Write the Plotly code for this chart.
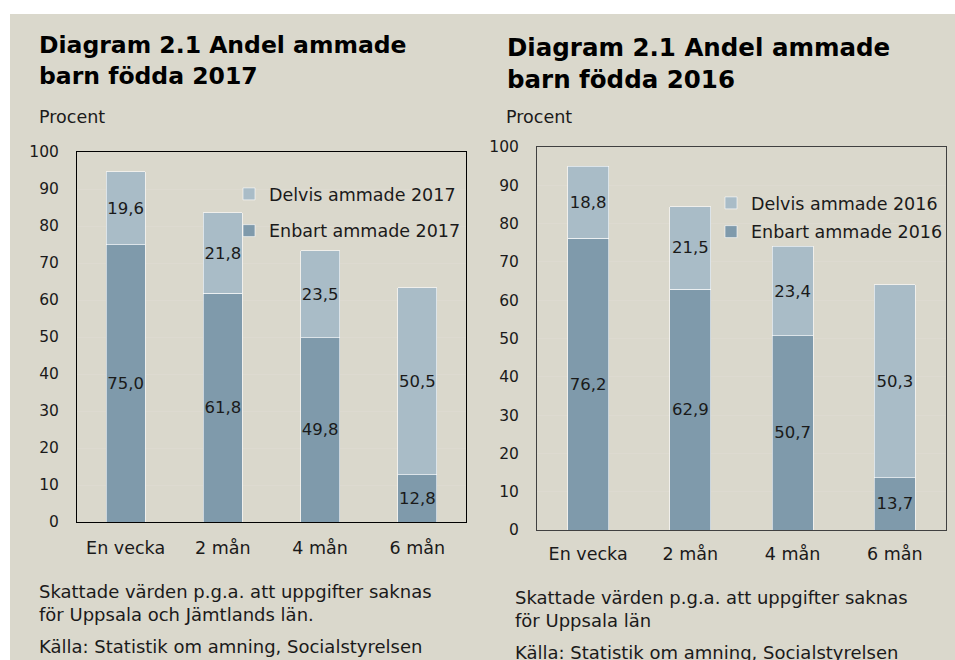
import plotly.graph_objects as go

categories = ["En vecka", "2 mån", "4 mån", "6 mån"]
enbart_2017 = [75.0, 61.8, 49.8, 12.8]
delvis_2017 = [19.6, 21.8, 23.5, 50.5]
enbart_2016 = [76.2, 62.9, 50.7, 13.7]
delvis_2016 = [18.8, 21.5, 23.4, 50.3]
y_ticks = [0, 10, 20, 30, 40, 50, 60, 70, 80, 90, 100]

W, H = 955, 660
FONT = "DejaVu Sans"
DARK = "#7f9aab"
LIGHT = "#a9bcc7"
BG = "#dad8cc"
GRID = "#dddad0"
TXT = "#1a1a1a"


def px(x):
    return x / W


def py(y):
    return 1 - y / H


fig = go.Figure()


def add_pair(enb, delv, year, xa, ya, leg):
    for vals, nm, col, grp, rk in [(enb, "Enbart", DARK, "e", 2), (delv, "Delvis", LIGHT, "d", 1)]:
        fig.add_trace(go.Bar(
            x=categories, y=vals, name=f"{nm} ammade {year}", xaxis=xa, yaxis=ya,
            marker=dict(color=col, line=dict(color="#ffffff", width=0.6)),
            texttemplate="%{y:.1f}", textposition="inside", insidetextanchor="middle",
            textangle=0, constraintext="none",
            textfont=dict(family=FONT, size=16.5, color=TXT), legend=leg,
            legendgroup=f"{grp}{year}", legendrank=rk, width=0.4))


add_pair(enbart_2017, delvis_2017, 2017, "x", "y", "legend")
add_pair(enbart_2016, delvis_2016, 2016, "x2", "y2", "legend2")

xfont = dict(family=FONT, size=17.5, color=TXT)
yfont = dict(family=FONT, size=15.5, color=TXT)

fig.update_layout(
    width=W, height=H, margin=dict(l=0, r=0, t=0, b=0, autoexpand=False),
    paper_bgcolor="#ffffff", plot_bgcolor="#ffffff",
    barmode="stack", separators=", ",
    font=dict(family=FONT, color=TXT),
    xaxis=dict(domain=[px(77), px(466)], anchor="y", linecolor="#000000",
               showline=True, mirror=True, linewidth=1, ticks="", automargin=False,
               showgrid=False, ticklabelstandoff=10, tickfont=xfont),
    yaxis=dict(domain=[py(522), py(152)], anchor="x", range=[0, 100], tickvals=y_ticks,
               linecolor="#000000", showline=True, mirror=True, linewidth=1, ticks="",
               gridcolor=GRID, gridwidth=1, zeroline=False, automargin=False,
               ticklabelstandoff=14, tickfont=yfont),
    xaxis2=dict(domain=[px(537), px(946)], anchor="y2", linecolor="#404040",
                showline=True, mirror=True, linewidth=1, ticks="", automargin=False,
                showgrid=False, ticklabelstandoff=8, tickfont=xfont),
    yaxis2=dict(domain=[py(530), py(147)], anchor="x2", range=[0, 100], tickvals=y_ticks,
                linecolor="#404040", showline=True, mirror=True, linewidth=1, ticks="",
                gridcolor=GRID, gridwidth=1, zeroline=False, automargin=False,
                ticklabelstandoff=14, tickfont=yfont),
    legend=dict(x=px(229), y=py(176), xanchor="left", yanchor="top",
                bgcolor="rgba(0,0,0,0)", traceorder="grouped",
                tracegroupgap=11, itemwidth=30,
                font=dict(family=FONT, size=17.5, color=TXT)),
    legend2=dict(x=px(711), y=py(185), xanchor="left", yanchor="top",
                 bgcolor="rgba(0,0,0,0)", traceorder="grouped",
                 tracegroupgap=3, itemwidth=30,
                 font=dict(family=FONT, size=17.5, color=TXT)),
    showlegend=True,
)

# beige background panel
fig.add_shape(type="rect", xref="paper", yref="paper", x0=px(10), x1=1.0,
              y0=0, y1=py(14), fillcolor=BG, line=dict(width=0), layer="below")

annots = [
    ("Diagram 2.1 Andel ammade<br>barn födda 2017", 37, 60, 23.5, True),
    ("Diagram 2.1 Andel ammade<br>barn födda 2016", 505, 63, 24.5, True),
    ("Procent", 37, 117, 17.5, False),
    ("Procent", 504, 117, 17.5, False),
    ("Skattade värden p.g.a. att uppgifter saknas<br>för Uppsala och Jämtlands län.", 37, 603, 18, False),
    ("Källa: Statistik om amning, Socialstyrelsen", 37, 646, 18, False),
    ("Skattade värden p.g.a. att uppgifter saknas<br>för Uppsala län", 513, 609, 18, False),
    ("Källa: Statistik om amning, Socialstyrelsen", 513, 652, 18, False),
]
for text, x, y, size, bold in annots:
    fig.add_annotation(
        text=f"<b>{text}</b>" if bold else text, xref="paper", yref="paper",
        x=px(x), y=py(y), xanchor="left", yanchor="middle", align="left",
        showarrow=False, font=dict(family=FONT, size=size, color="#000000" if bold else TXT))

fig.write_html(
    "out.html",
    config={"displayModeBar": False, "responsive": False},
    post_script="document.body.style.margin='0';document.body.style.padding='0';",
)
